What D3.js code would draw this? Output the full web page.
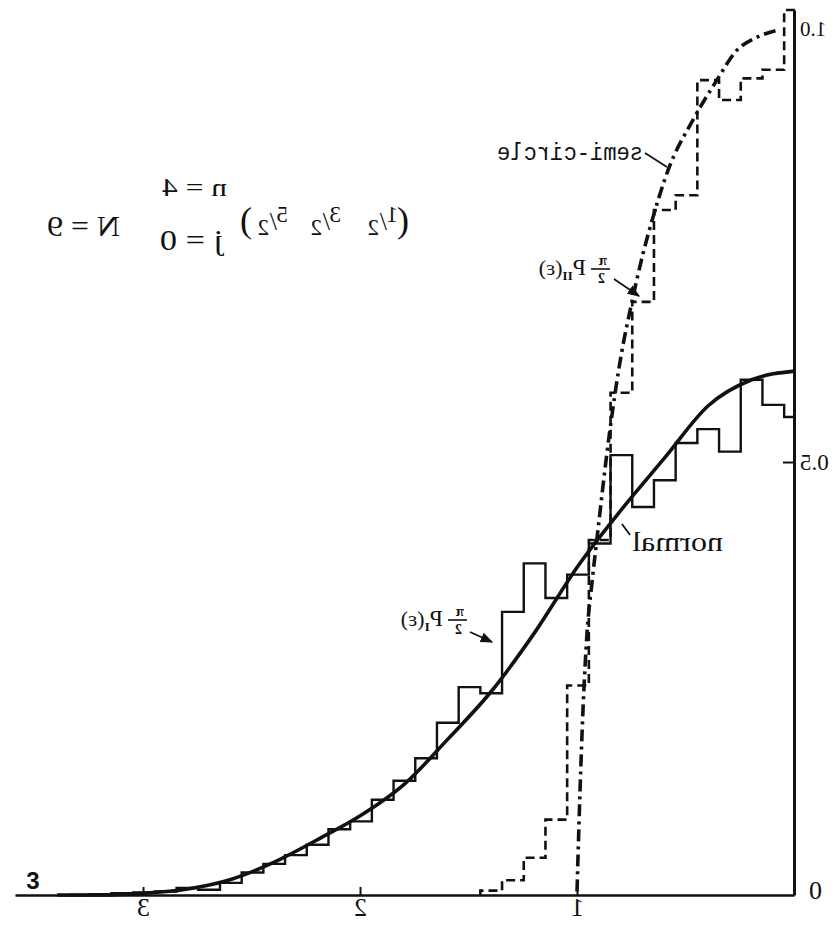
<!DOCTYPE html>
<html>
<head>
<meta charset="utf-8">
<script src="https://cdn.jsdelivr.net/npm/d3@7"></script>
<style>
  html, body { margin: 0; padding: 0; background: #fff; }
  svg { display: block; }
</style>
</head>
<body>
<svg id="chart" width="836" height="941"></svg>
<script>
// Bin centres (units of sigma) of the two level-density histograms
const binCentersI = [0, 0.1, 0.2, 0.3, 0.4, 0.5, 0.6, 0.7, 0.8, 0.9, 1.0, 1.1, 1.2, 1.3, 1.4, 1.5, 1.6,
  1.7, 1.8, 1.9, 2.0, 2.1, 2.2, 2.3, 2.4, 2.5, 2.6, 2.7, 2.8, 2.9, 3.0, 3.1, 3.2, 3.3];
// (pi/2) P_I(eps): solid histogram
const densityI = [0.552, 0.566, 0.595, 0.512, 0.538, 0.522, 0.479, 0.448, 0.508, 0.406, 0.370, 0.343,
  0.383, 0.327, 0.233, 0.240, 0.199, 0.158, 0.132, 0.110, 0.085, 0.076, 0.058, 0.046, 0.036, 0.026,
  0.014, 0.006, 0.008, 0.004, 0.003, 0.002, 0.001, 0.0];

const binCentersII = [0, 0.1, 0.2, 0.3, 0.4, 0.5, 0.6, 0.7, 0.8, 0.9, 1.0, 1.1, 1.2, 1.3, 1.4];
// (pi/2) P_II(eps): dashed histogram
const densityII = [1.022, 0.953, 0.943, 0.918, 0.941, 0.808, 0.791, 0.685, 0.580, 0.410, 0.242,
  0.087, 0.043, 0.017, 0.005];

// Normal (Gaussian) reference curve
const normalX = [0, 0.2, 0.4, 0.6, 0.8, 1.0, 1.2, 1.4, 1.6, 1.8, 2.0, 2.2, 2.4, 2.6, 2.8, 3.0, 3.2, 3.4];
const normalY = [0.605, 0.595, 0.565, 0.505, 0.445, 0.380, 0.303, 0.235, 0.180, 0.128, 0.092, 0.064,
  0.038, 0.018, 0.007, 0.002, 0.0, 0.0];

// Semi-circle reference curve
const semiX = [0.09, 0.18, 0.27, 0.36, 0.47, 0.585, 0.654, 0.70, 0.76, 0.80, 0.853, 0.912, 0.935,
  0.959, 0.977, 0.991, 1.0, 1.005];
const semiY = [0.998, 0.990, 0.975, 0.941, 0.895, 0.837, 0.783, 0.741, 0.675, 0.625, 0.537, 0.413,
  0.362, 0.300, 0.214, 0.118, 0.044, 0.0];

const xTickValues = [1, 2, 3];
const yTickValues = [0, 0.5, 1.0];
const yTickLabels = ["0", "0.5", "1.0"];

const ink = "#111";
const svg = d3.select("#chart");

// Arrowhead for the label pointers
svg.append("defs").append("marker")
  .attr("id", "head").attr("viewBox", "0 0 10 10")
  .attr("refX", 9).attr("refY", 5)
  .attr("markerWidth", 7).attr("markerHeight", 7)
  .attr("orient", "auto")
  .append("path").attr("d", "M0,1 L10,5 L0,9 Z").attr("fill", ink);

// The plot is laid out left-to-right, then mirrored as a whole
const g = svg.append("g").attr("transform", "translate(836,0) scale(-1,1)");

const x = d3.scaleLinear().domain([0, 3.59]).range([41, 820]);
const y = d3.scaleLinear().domain([0, 1.022]).range([895, 10]);

// x axis along the bottom
const xAxis = g.append("g")
  .attr("transform", `translate(0,${y(0)})`)
  .call(d3.axisBottom(x).tickValues(xTickValues).tickFormat(d3.format("d"))
    .tickSizeInner(-8).tickSizeOuter(0).tickPadding(3));
xAxis.select(".domain").attr("stroke", ink).attr("stroke-width", 2.4);
xAxis.selectAll(".tick line").attr("stroke", ink).attr("stroke-width", 2);
xAxis.selectAll(".tick text").attr("fill", ink)
  .style("font-family", "'Liberation Serif', serif").style("font-size", "26px");

// y axis at energy zero
const yAxis = g.append("g")
  .attr("transform", `translate(${x(0)},0)`)
  .call(d3.axisLeft(y).tickValues(yTickValues).tickFormat((d, i) => yTickLabels[i])
    .tickSizeInner(-12).tickSizeOuter(0).tickPadding(5));
yAxis.select(".domain").attr("stroke", ink).attr("stroke-width", 3);
yAxis.selectAll(".tick line").attr("stroke", ink).attr("stroke-width", 2)
  .attr("display", d => d === 0.5 ? null : "none");
yAxis.selectAll(".tick text").attr("fill", ink)
  .style("font-family", "'Liberation Serif', serif")
  .style("font-size", d => d === 0 ? "26px" : (d === 1 ? "21px" : "23px"))
  .attr("x", d => d === 0 ? -14 : -5)
  .attr("dy", d => d === 0 ? "0.12em" : "0.32em");

// Histogram outlines as step paths
function stepPoints(centers, values) {
  const pts = [];
  centers.forEach((c, i) => {
    pts.push([Math.max(0, c - 0.05), values[i]], [c + 0.05, values[i]]);
  });
  return pts;
}
const stepLine = d3.line().x(d => x(d[0])).y(d => y(d[1]));

const ptsII = stepPoints(binCentersII, densityII);
ptsII.push([ptsII[ptsII.length - 1][0], 0]);

g.append("path")
  .attr("d", stepLine(stepPoints(binCentersI, densityI)))
  .attr("fill", "none").attr("stroke", ink).attr("stroke-width", 2.4)
  .attr("stroke-linejoin", "miter");

g.append("path")
  .attr("d", stepLine(ptsII))
  .attr("fill", "none").attr("stroke", ink).attr("stroke-width", 2.6)
  .attr("stroke-dasharray", "9,5");

// Smooth reference curves
const smooth = d3.line().x(d => x(d[0])).y(d => y(d[1])).curve(d3.curveMonotoneX);

g.append("path")
  .attr("d", smooth(normalX.map((v, i) => [v, normalY[i]])))
  .attr("fill", "none").attr("stroke", ink).attr("stroke-width", 3.6);

g.append("path")
  .attr("d", smooth(semiX.map((v, i) => [v, semiY[i]])))
  .attr("fill", "none").attr("stroke", ink).attr("stroke-width", 3.6)
  .attr("stroke-dasharray", "12,5,3,5");

// Labels
const serif = "'Liberation Serif', serif";
function txt(xp, yp, s, size, fam, len) {
  const t = g.append("text").attr("x", xp).attr("y", yp).text(s)
    .attr("fill", ink).style("font-family", fam || serif).style("font-size", size + "px");
  if (len) t.attr("textLength", len).attr("lengthAdjust", "spacingAndGlyphs");
  return t;
}
function pointer(x1, y1, x2, y2, arrow) {
  const l = g.append("line").attr("x1", x1).attr("y1", y1).attr("x2", x2).attr("y2", y2)
    .attr("stroke", ink).attr("stroke-width", 1.8);
  if (arrow) l.attr("marker-end", "url(#head)");
}

// semi-circle
txt(193, 160, "semi-circle", 23, "'Liberation Mono', monospace", 146);
pointer(191, 153, 169, 167, false);

// normal
txt(113, 551, "normal", 28, serif, 91);
pointer(214, 524, 206, 535, false);

// (pi/2) P_II(eps) and (pi/2) P_I(eps)
function densityLabel(x0, yb, sub) {
  txt(x0 + 3, yb - 10, "π", 15, serif).style("font-weight", "bold");
  g.append("line").attr("x1", x0).attr("x2", x0 + 19).attr("y1", yb - 6).attr("y2", yb - 6)
    .attr("stroke", ink).attr("stroke-width", 1.6);
  txt(x0 + 5, yb + 8, "2", 14, serif).style("font-weight", "bold");
  const t = g.append("text").attr("x", x0 + 24).attr("y", yb).attr("fill", ink)
    .style("font-family", serif).style("font-size", "24px");
  t.append("tspan").text("P");
  t.append("tspan").text(sub).attr("dy", 5).style("font-size", "13px").style("font-weight", "bold");
  t.append("tspan").text("(ε)").attr("dy", -5).style("font-size", "22px");
}
densityLabel(226, 275, "II");
pointer(222, 279, 197, 296, true);

densityLabel(369, 626, "I");
pointer(366, 632, 344, 642, true);

// (1/2 3/2 5/2), j = 0, n = 4, N = 9
txt(427, 232, "(", 36, serif);
[["1", 438], ["3", 495], ["5", 548]].forEach(([num, xp]) => {
  txt(xp, 222, num, 23, serif);
  txt(xp + 11, 230, "/", 26, serif);
  txt(xp + 19, 235, "2", 23, serif);
});
txt(584, 232, ")", 36, serif);
txt(609, 196, "n = 4", 26, serif, 65);
txt(613, 250, "j = 0", 30, serif, 63);
txt(716, 236, "N = 9", 30, serif, 73);

// Unmirrored marker at the far end of the energy axis
svg.append("text").attr("x", 33).attr("y", 889).attr("text-anchor", "middle").text("3")
  .attr("fill", ink).style("font-family", "'Liberation Sans', sans-serif")
  .style("font-size", "24px").style("font-weight", "bold");
</script>
</body>
</html>
